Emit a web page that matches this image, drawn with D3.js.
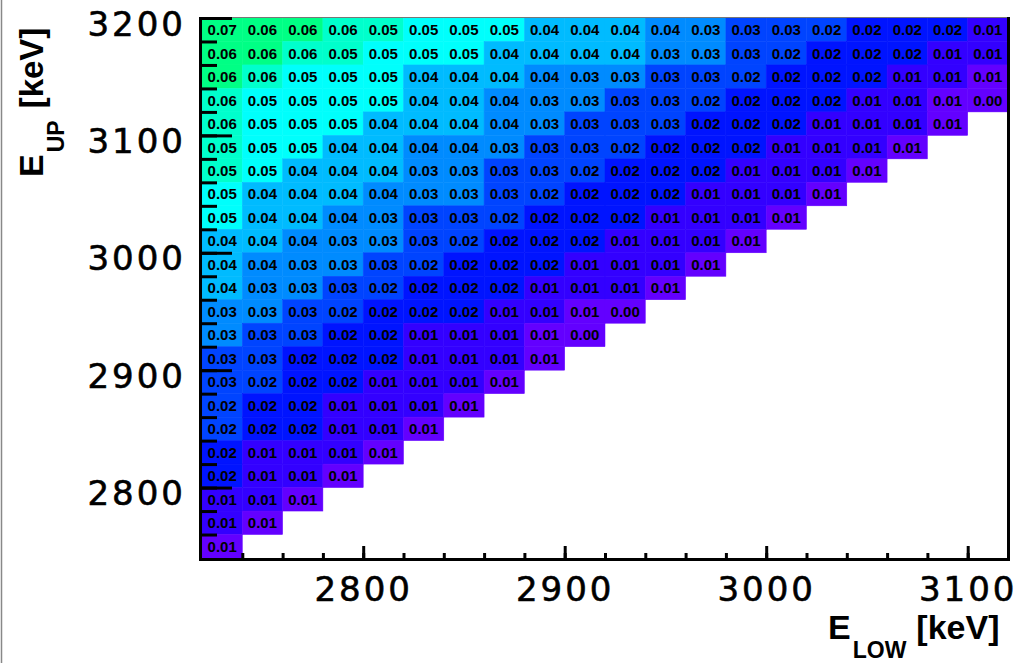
<!DOCTYPE html>
<meta charset="utf-8">
<style>
body { margin: 0; background: #fff; }
.tick text { font-family: "DejaVu Sans", sans-serif; font-size: 34px; letter-spacing: 3px; fill: #000; stroke: #000; stroke-width: 0.6px; }
.cell-label { font-family: "Liberation Sans", Arial, sans-serif; font-weight: bold; font-size: 15px; fill: #000; }
.title { font-family: "Liberation Sans", Arial, sans-serif; font-weight: bold; fill: #000; }
</style>
<body>
<script src="https://cdn.jsdelivr.net/npm/d3@7"></script>
<script>

// lower edges of the E_LOW bins (columns) and E_UP bins (rows, top to bottom)
var eLow = [2720, 2740, 2760, 2780, 2800, 2820, 2840, 2860, 2880, 2900,
            2920, 2940, 2960, 2980, 3000, 3020, 3040, 3060, 3080, 3100];
var eUp = [3180, 3160, 3140, 3120, 3100, 3080, 3060, 3040, 3020, 3000, 2980, 2960,
           2940, 2920, 2900, 2880, 2860, 2840, 2820, 2800, 2780, 2760, 2740];
var binWidth = 20;

// one array per E_UP bin, values from E_LOW = 2720 upward
// (printed to 2 decimals; third digit guessed from the colour of each cell)
var up3180 = [0.069,0.064,0.063,0.058,0.0548,0.053,0.051,0.049,0.044,0.042,0.040,0.037,0.033,0.030,0.027,0.024,0.021,0.019,0.017,0.013];
var up3160 = [0.064,0.063,0.060,0.0548,0.054,0.052,0.050,0.044,0.043,0.041,0.040,0.034,0.032,0.029,0.024,0.022,0.020,0.017,0.014,0.012];
var up3140 = [0.063,0.059,0.054,0.052,0.049,0.044,0.042,0.040,0.038,0.034,0.032,0.030,0.027,0.024,0.022,0.019,0.017,0.014,0.011,0.007];
var up3120 = [0.059,0.054,0.052,0.050,0.048,0.044,0.041,0.038,0.034,0.032,0.030,0.027,0.024,0.022,0.019,0.017,0.014,0.010,0.007,0.004];
var up3100 = [0.058,0.054,0.051,0.049,0.044,0.042,0.040,0.037,0.034,0.031,0.029,0.026,0.023,0.020,0.017,0.014,0.012,0.010,0.007];
var up3080 = [0.0548,0.052,0.049,0.044,0.041,0.038,0.036,0.033,0.029,0.026,0.024,0.021,0.019,0.017,0.014,0.012,0.010,0.007];
var up3060 = [0.0548,0.050,0.044,0.042,0.040,0.034,0.032,0.030,0.027,0.024,0.022,0.019,0.016,0.014,0.012,0.010,0.007];
var up3040 = [0.050,0.044,0.042,0.040,0.037,0.033,0.032,0.029,0.024,0.022,0.019,0.017,0.014,0.012,0.010,0.007];
var up3020 = [0.048,0.043,0.040,0.037,0.033,0.030,0.027,0.024,0.022,0.020,0.017,0.014,0.012,0.010,0.007];
var up3000 = [0.043,0.040,0.037,0.034,0.032,0.029,0.024,0.021,0.019,0.017,0.014,0.012,0.010,0.007];
var up2980 = [0.041,0.038,0.034,0.032,0.029,0.024,0.022,0.019,0.016,0.014,0.012,0.010,0.007];
var up2960 = [0.040,0.034,0.032,0.029,0.024,0.022,0.019,0.016,0.014,0.012,0.010,0.007];
var up2940 = [0.034,0.032,0.030,0.024,0.021,0.019,0.016,0.014,0.011,0.007,0.004];
var up2920 = [0.033,0.030,0.027,0.022,0.018,0.014,0.012,0.010,0.007,0.004];
var up2900 = [0.030,0.026,0.022,0.019,0.016,0.014,0.011,0.009,0.007];
var up2880 = [0.027,0.024,0.021,0.017,0.014,0.011,0.009,0.007];
var up2860 = [0.024,0.020,0.017,0.014,0.011,0.009,0.007];
var up2840 = [0.024,0.019,0.016,0.013,0.010,0.007];
var up2820 = [0.019,0.014,0.012,0.010,0.007];
var up2800 = [0.017,0.013,0.010,0.007];
var up2780 = [0.013,0.010,0.007];
var up2760 = [0.011,0.007];
var up2740 = [0.007];

var xTicks = [2800, 2900, 3000, 3100];
var yTicks = [2800, 2900, 3000, 3100, 3200];

var rows = [up3180, up3160, up3140, up3120, up3100, up3080, up3060, up3040, up3020, up3000, up2980, up2960,
            up2940, up2920, up2900, up2880, up2860, up2840, up2820, up2800, up2780, up2760, up2740];

// flatten into cells
var cells = [];
rows.forEach(function(r, i) {
  r.forEach(function(v, j) {
    cells.push({low: eLow[j], up: eUp[i], v: v});
  });
});

var W = 1025, H = 663;
var plot = {left: 202, right: 1008, top: 18, bottom: 558};

var x = d3.scaleLinear()
    .domain([eLow[0], eLow[eLow.length - 1] + binWidth])
    .range([plot.left, plot.right]);
var y = d3.scaleLinear()
    .domain([eUp[eUp.length - 1], eUp[0] + binWidth])
    .range([plot.bottom, plot.top]);

// ROOT "pretty" palette (50 hues violet -> red), 20 contour levels over z range
var zMax = 0.156, nContours = 20, nColours = 50;
var palette = d3.range(nColours).map(function(i) {
  return d3.hsl(280 - (i + 1) * 280 / nColours, 1, 0.5).formatHex();
});
var level = d3.scaleLinear().domain([0, zMax]).range([0, nContours]);
function colour(v) {
  var c = Math.min(nContours - 1, Math.floor(0.01 + level(v)));
  return palette[Math.floor((c + 0.99) * nColours / nContours)];
}

var svg = d3.select("body").append("svg")
    .attr("width", W)
    .attr("height", H);

svg.append("line")
    .attr("x1", 1.5).attr("x2", 1.5).attr("y1", 0).attr("y2", H)
    .attr("stroke", "#888").attr("stroke-width", 1.5);

// cells
svg.selectAll(".cell")
    .data(cells)
  .enter().append("rect")
    .attr("class", "cell")
    .attr("x", function(d) { return x(d.low); })
    .attr("y", function(d) { return y(d.up + binWidth); })
    .attr("width", function(d) { return x(d.low + binWidth) - x(d.low); })
    .attr("height", function(d) { return y(d.up) - y(d.up + binWidth); })
    .attr("fill", function(d) { return colour(d.v); })
    .attr("stroke", function(d) { return colour(d.v); })
    .attr("stroke-width", 0.5);

svg.selectAll(".cell-label")
    .data(cells)
  .enter().append("text")
    .attr("class", "cell-label")
    .attr("x", function(d) { return x(d.low + binWidth / 2); })
    .attr("y", function(d) { return y(d.up + binWidth / 2); })
    .attr("text-anchor", "middle")
    .attr("dy", "0.36em")
    .text(function(d) { return d3.format(".2f")(d.v); });

// frame (top thin, right thick)
svg.append("line")
    .attr("x1", plot.left).attr("x2", plot.right).attr("y1", plot.top - 0.5).attr("y2", plot.top - 0.5)
    .attr("stroke", "#777").attr("stroke-width", 1);
svg.append("line")
    .attr("x1", plot.right + 0.5).attr("x2", plot.right + 0.5).attr("y1", plot.top - 1).attr("y2", plot.bottom)
    .attr("stroke", "#000").attr("stroke-width", 3);

// minor ticks every bin, major ticks with labels (ROOT style, pointing inward)
var xMinor = d3.range(eLow[0] + binWidth, eLow[eLow.length - 1] + binWidth, binWidth);
var yMinor = d3.range(eUp[eUp.length - 1] + binWidth, eUp[0] + binWidth, binWidth);

svg.append("g")
    .attr("transform", "translate(0," + plot.bottom + ")")
    .call(d3.axisBottom(x).tickValues(xMinor).tickSize(-5).tickFormat(""))
    .call(function(g) { g.select(".domain").remove(); g.selectAll("line").attr("stroke-width", 3); });
svg.append("g")
    .attr("class", "xaxis")
    .attr("transform", "translate(0," + plot.bottom + ")")
    .call(d3.axisBottom(x).tickValues(xTicks).tickSize(-12).tickPadding(19).tickFormat(d3.format("d")))
    .call(function(g) { g.select(".domain").remove(); g.selectAll("line").attr("stroke-width", 3); });

svg.append("g")
    .attr("transform", "translate(" + plot.left + ",0)")
    .call(d3.axisLeft(y).tickValues(yMinor).tickSize(-15).tickFormat(""))
    .call(function(g) { g.select(".domain").remove(); g.selectAll("line").attr("stroke-width", 3); });
svg.append("g")
    .attr("class", "yaxis")
    .attr("transform", "translate(" + plot.left + ",0)")
    .call(d3.axisLeft(y).tickValues(yTicks).tickSize(-30).tickPadding(16).tickFormat(d3.format("d")))
    .call(function(g) {
      g.select(".domain").remove();
      g.selectAll("line").attr("stroke-width", 3);
      g.selectAll("text").attr("dy", "0.5em");
    });

// axis lines
svg.append("line")
    .attr("x1", plot.left - 1.5).attr("x2", plot.left - 1.5).attr("y1", plot.top - 1).attr("y2", plot.bottom + 3)
    .attr("stroke", "#000").attr("stroke-width", 3);
svg.append("line")
    .attr("x1", plot.left - 3).attr("x2", plot.right + 2).attr("y1", plot.bottom + 1.5).attr("y2", plot.bottom + 1.5)
    .attr("stroke", "#000").attr("stroke-width", 3);

// axis titles
var xt = svg.append("text").attr("class", "title")
    .attr("x", 828).attr("y", 639);
xt.append("tspan").attr("font-size", 34).text("E");
xt.append("tspan").attr("font-size", 23).attr("dx", 2).attr("dy", 19).text("LOW");
xt.append("tspan").attr("font-size", 34).attr("dx", 10).attr("dy", -19).text("[keV]");

var yt = svg.append("text").attr("class", "title")
    .attr("transform", "translate(43,177) rotate(-90)");
yt.append("tspan").attr("font-size", 34).text("E");
yt.append("tspan").attr("font-size", 23).attr("dx", 2).attr("dy", 21).text("UP");
yt.append("tspan").attr("font-size", 33).attr("dx", 12).attr("dy", -21).text("[keV]");

</script>
</body>
